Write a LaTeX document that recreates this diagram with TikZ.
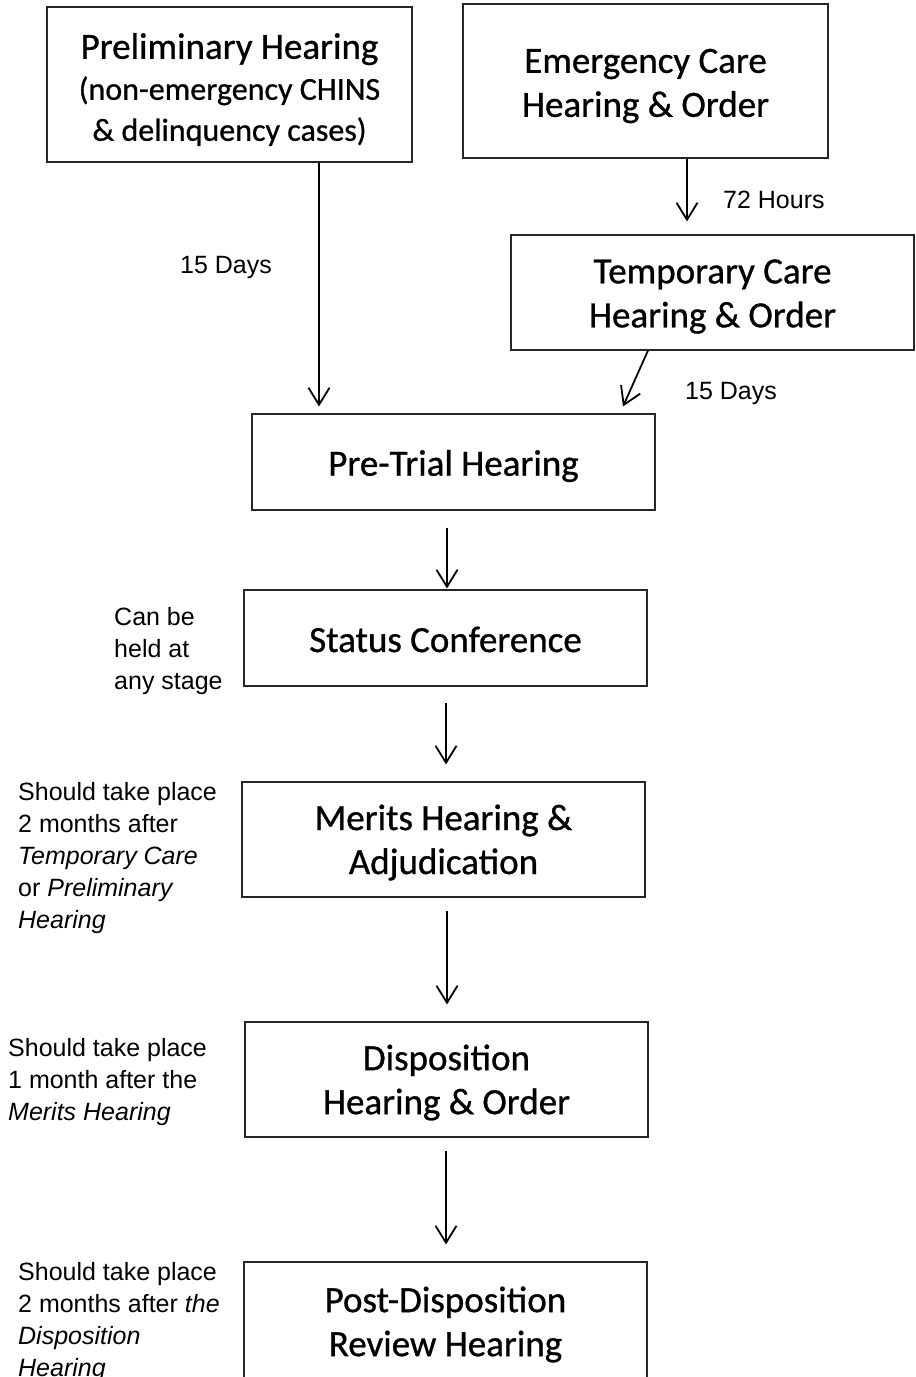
\documentclass[tikz,border=0pt]{standalone}
\usepackage{fontspec}
\setmainfont{Carlito}
\newfontfamily\boxfont{Carlito}[FakeBold=0.8]
\newfontfamily\labfont{Liberation Sans}
\usetikzlibrary{arrows.meta}
\begin{document}
\begin{tikzpicture}[x=1pt,y=-1pt,
  box/.style={draw=black!85, line width=1.1pt, rectangle, inner sep=0pt},
  btxt/.style={inner sep=0pt, align=center, font=\boxfont\fontsize{37}{44}\selectfont},
  lab/.style={font=\labfont\fontsize{25}{32}\selectfont, align=left, inner sep=0pt, anchor=west},
  arr/.style={line width=1.8pt, -{Straight Barb[length=17pt,width=21pt]}}]
\clip (0,0) rectangle (916,1377);
\fill[white] (0,0) rectangle (916,1377);

% boxes
\node[box, minimum width=365pt, minimum height=155pt] (pre) at (229.5,84.5) {};
\node[box, minimum width=365pt, minimum height=154pt] (emc) at (645.5,81) {};
\node[box, minimum width=403pt, minimum height=115pt] (tmp) at (712.5,292.5) {};
\node[box, minimum width=403pt, minimum height=96pt] (ptr) at (453.5,462) {};
\node[box, minimum width=403pt, minimum height=96pt] (sta) at (445.5,638) {};
\node[box, minimum width=403pt, minimum height=115pt] (mer) at (443.5,839.5) {};
\node[box, minimum width=403pt, minimum height=115pt] (dis) at (446.5,1079.5) {};
\node[box, minimum width=403pt, minimum height=117pt] (pos) at (445.5,1320.5) {};

% box texts
\node[btxt, font=\boxfont\fontsize{32}{41}\selectfont] (pretxt) at ([yshift=-5pt]pre.center)
  {{\fontsize{37}{41}\selectfont Preliminary Hearing}\\(non-emergency CHINS\\\& delinquency cases)};
\node[btxt] (emctxt) at ([yshift=-5pt]emc.center) {Emergency Care\\Hearing \& Order};
\node[btxt] (tmptxt) at ([yshift=-4pt]tmp.center) {Temporary Care\\Hearing \& Order};
\node[btxt] (ptrtxt) at ([yshift=-4pt]ptr.center) {Pre-Trial Hearing};
\node[btxt] (statxt) at ([yshift=-1.5pt]sta.center) {Status Conference};
\node[btxt] (mertxt) at ([yshift=-3pt]mer.center) {Merits Hearing \&\\Adjudication};
\node[btxt] (distxt) at ([yshift=-3pt]dis.center) {Disposition\\Hearing \& Order};
\node[btxt] (postxt) at ([yshift=-4pt]pos.center) {Post-Disposition\\Review Hearing};

% connectors
\draw[arr] ([xshift=89.5pt]pre.south) -- ([xshift=-134.5pt,yshift=7pt]ptr.north);
\draw[arr] ([xshift=41.5pt]emc.south) -- ([xshift=-25.5pt,yshift=13pt]tmp.north);
\draw[arr] ([xshift=-64.5pt]tmp.south) -- ([xshift=169.5pt,yshift=7pt]ptr.north);
\draw[arr] ([xshift=-6.5pt,yshift=-17pt]ptr.south) -- ([xshift=1.5pt,yshift=1pt]sta.north);
\draw[arr] ([xshift=0.5pt,yshift=-16pt]sta.south) -- ([xshift=2.5pt,yshift=17pt]mer.north);
\draw[arr] ([xshift=3.5pt,yshift=-13pt]mer.south) -- ([xshift=0.5pt,yshift=17pt]dis.north);
\draw[arr] ([xshift=-0.5pt,yshift=-13pt]dis.south) -- ([xshift=0.5pt,yshift=17pt]pos.north);

% labels
\node[lab] (l15a) at (180,267) {15 Days};
\node[lab] (l72) at (723,200) {72 Hours};
\node[lab] (l15b) at (685,393) {15 Days};
\node[lab] (lcan) at (114,651) {Can be\\held at\\any stage};
\node[lab] (lmer) at (18,858.5) {Should take place\\2 months after\\\textit{Temporary Care}\\or \textit{Preliminary}\\\textit{Hearing}};
\node[lab] (ldis) at (8,1082.5) {Should take place\\1 month after the\\\textit{Merits Hearing}};
\node[lab] (lpos) at (18,1322.5) {Should take place\\2 months after \textit{the}\\\textit{Disposition}\\\textit{Hearing}};
\end{tikzpicture}
\end{document}
